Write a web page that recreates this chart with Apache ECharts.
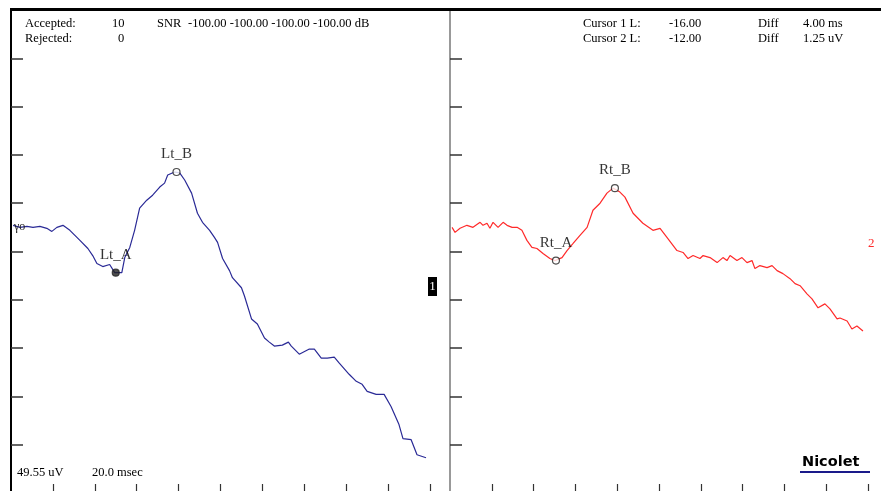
<!DOCTYPE html>
<html>
<head>
<meta charset="utf-8">
<script src="https://cdn.jsdelivr.net/npm/echarts@6/dist/echarts.min.js"></script>
<style>
  html, body { margin: 0; padding: 0; background: #fff; }
  #chart { width: 881px; height: 491px; }
</style>
</head>
<body>
<div id="chart"></div>
<script>
// Trace 1 (left, blue) : time in ms, amplitude in uV
const leftTime = [0.10, 0.43, 0.76, 1.05, 1.38, 1.71, 1.95, 2.19, 2.48, 2.81, 3.29, 3.67, 3.90, 4.10, 4.38, 4.71, 4.95, 5.29, 5.43, 5.67,
  5.90, 6.14, 6.48, 6.76, 7.10, 7.33, 7.48, 7.81, 8.05, 8.29, 8.62, 8.90, 9.14, 9.48, 9.71, 9.86, 10.10, 10.43, 10.57, 11.00,
  11.14, 11.48, 11.76, 12.10, 12.33, 12.57, 12.95, 13.24, 13.38, 13.76, 14.24, 14.48, 14.81, 15.10, 15.43, 15.67, 16.14, 16.48, 16.76, 17.00,
  17.43, 17.81, 18.14, 18.52, 18.71, 19.10, 19.38, 19.81];
const leftAmp = [2.71, 2.50, 2.60, 2.50, 2.60, 2.40, 2.08, 2.50, 2.71, 2.19, 1.15, 0.31, -0.42, -1.25, -1.56, -1.35, -2.19, -2.19, -0.63, 0.42,
  2.19, 4.48, 5.31, 5.83, 6.67, 7.08, 7.92, 8.23, 8.13, 7.40, 6.04, 3.96, 3.02, 2.19, 1.46, 0.94, -0.73, -1.98, -2.71, -3.75,
  -4.58, -6.98, -7.50, -8.96, -9.38, -9.79, -9.69, -9.38, -9.79, -10.63, -10.10, -10.10, -11.04, -11.04, -10.94, -11.56, -12.71, -13.44, -13.75, -14.48,
  -14.79, -14.79, -16.04, -17.92, -19.38, -19.48, -21.04, -21.35];

// Trace 2 (right, red)
const rightTime = [0.10, 0.24, 0.48, 0.81, 1.10, 1.44, 1.58, 1.77, 1.91, 2.06, 2.30, 2.54, 2.73, 2.97, 3.21, 3.44, 3.68, 3.92, 4.16, 4.45,
  4.78, 5.02, 5.36, 5.60, 5.89, 6.22, 6.56, 6.84, 7.18, 7.51, 7.80, 8.13, 8.37, 8.76, 9.23, 9.71, 10.05, 10.38, 10.86, 11.15,
  11.39, 11.63, 11.96, 12.11, 12.44, 12.78, 13.06, 13.25, 13.40, 13.73, 13.97, 14.21, 14.45, 14.59, 14.83, 15.17, 15.41, 15.65, 15.93, 16.27,
  16.51, 16.75, 17.08, 17.32, 17.61, 17.94, 18.18, 18.52, 18.66, 19.00, 19.23, 19.47, 19.76];
const rightAmp = [2.50, 1.98, 2.40, 2.71, 2.50, 3.02, 2.71, 2.92, 2.40, 3.02, 2.50, 3.02, 2.71, 2.50, 2.50, 2.19, 1.15, 0.42, 0.31, -0.21,
  -0.73, -0.94, -0.63, 0.10, 0.83, 1.67, 2.50, 4.27, 5.00, 6.04, 6.56, 6.15, 5.63, 3.96, 2.92, 2.19, 2.40, 1.46, 0.10, -0.10,
  -0.73, -0.42, -0.73, -0.42, -0.63, -1.15, -0.63, -0.94, -0.42, -0.94, -0.63, -1.15, -0.94, -1.77, -1.46, -1.67, -1.46, -1.98, -2.29, -2.81,
  -3.33, -3.54, -4.38, -4.90, -5.83, -5.42, -5.94, -6.98, -6.88, -7.19, -8.02, -7.71, -8.23];

// Peak marks
const leftPeakNames = ['Lt_A', 'Lt_B'];
const leftPeakTime = [5.00, 7.90];
const leftPeakAmp = [-2.19, 8.23];
const rightPeakNames = ['Rt_A', 'Rt_B'];
const rightPeakTime = [5.07, 7.89];
const rightPeakAmp = [-0.94, 6.56];

// Axis ticks
const timeTicks = [2, 4, 6, 8, 10, 12, 14, 16, 18, 20];
const ampTicks = [-20, -15, -10, -5, 0, 5, 10, 15, 20];

const zip = (a, b) => a.map((v, i) => [v, b[i]]);

const serif = '"Liberation Serif", "DejaVu Serif", serif';

function xAxisFor(gridIndex) {
    return {
        type: 'value', gridIndex: gridIndex, min: 0, max: 20, interval: 2,
        axisLine: { show: false, onZero: false },
        axisLabel: { show: false },
        splitLine: { show: false },
        axisTick: { show: true, inside: true, length: 9, customValues: timeTicks,
            lineStyle: { color: '#333', width: 1.2 } }
    };
}

function yAxisFor(gridIndex, lineColor, lineWidth) {
    return {
        type: 'value', gridIndex: gridIndex, min: -25, max: 25, interval: 5,
        axisLine: { show: true, onZero: false, lineStyle: { color: lineColor, width: lineWidth } },
        axisLabel: { show: false },
        splitLine: { show: false },
        axisTick: { show: true, inside: true, length: 12, customValues: ampTicks,
            lineStyle: { color: '#333', width: 1.5 } }
    };
}

function peakSeries(idx, names, times, amps, filledFirst) {
    return {
        type: 'scatter', xAxisIndex: idx, yAxisIndex: idx,
        symbol: 'circle', symbolSize: 7, z: 5,
        data: names.map((n, i) => ({
            name: n, value: [times[i], amps[i]],
            itemStyle: { color: (filledFirst && i === 0) ? '#222' : '#fff', borderColor: '#222', borderWidth: 1.2 }
        })),
        label: {
            show: true, position: 'top', distance: 6, formatter: '{b}',
            fontFamily: serif, fontSize: 15, color: '#000', textBorderWidth: 0
        }
    };
}

const chart = echarts.init(document.getElementById('chart'), null, { renderer: 'canvas' });

const txt = (x, y, text, extra) => ({
    type: 'text', x: x, y: y, z: 20,
    style: Object.assign({ text: text, fontFamily: serif, fontSize: 12.5, fill: '#000', textVerticalAlign: 'middle' }, extra || {})
});

const option = {
    animation: false,
    backgroundColor: '#fff',
    grid: [
        { left: 11, top: 10, width: 419, height: 483, outerBoundsMode: 'none' },
        { left: 450, top: 10, width: 418, height: 483, outerBoundsMode: 'none' }
    ],
    xAxis: [xAxisFor(0), xAxisFor(1)],
    yAxis: [yAxisFor(0, '#000', 2), yAxisFor(1, '#777', 1.5)],
    series: [
        {
            type: 'line', xAxisIndex: 0, yAxisIndex: 0, showSymbol: false,
            lineStyle: { color: '#2a2a96', width: 1.2 },
            data: zip(leftTime, leftAmp)
        },
        {
            type: 'line', xAxisIndex: 1, yAxisIndex: 1, showSymbol: false,
            lineStyle: { color: '#ff2a2a', width: 1.2 },
            data: zip(rightTime, rightAmp)
        },
        peakSeries(0, leftPeakNames, leftPeakTime, leftPeakAmp, true),
        peakSeries(1, rightPeakNames, rightPeakTime, rightPeakAmp, false)
    ],
    graphic: [
        // top border
        { type: 'line', z: 20, shape: { x1: 10, y1: 9.5, x2: 881, y2: 9.5 }, style: { stroke: '#000', lineWidth: 3 } },
        // header, left
        txt(25, 24, 'Accepted:'),
        txt(112, 24, '10'),
        txt(157, 24, 'SNR'),
        txt(188, 24, '-100.00 -100.00 -100.00 -100.00 dB'),
        txt(25, 39, 'Rejected:'),
        txt(118, 39, '0'),
        // header, right
        txt(583, 24, 'Cursor 1 L:'),
        txt(669, 24, '-16.00'),
        txt(758, 24, 'Diff'),
        txt(803, 24, '4.00 ms'),
        txt(583, 39, 'Cursor 2 L:'),
        txt(669, 39, '-12.00'),
        txt(758, 39, 'Diff'),
        txt(803, 39, '1.25 uV'),
        // bottom scale
        txt(17, 473, '49.55 uV'),
        txt(92, 473, '20.0 msec'),
        // cursor glyph at start of trace 1
        txt(14, 227, 'γo', { fontSize: 12, fill: '#222' }),
        // trace number tags
        { type: 'rect', z: 20, shape: { x: 428, y: 277, width: 9, height: 19 }, style: { fill: '#000' } },
        txt(432.5, 287, '1', { fill: '#fff', fontSize: 13, textAlign: 'center', z: 21 }),
        txt(868, 244, '2', { fill: '#ff2a2a', fontSize: 13 }),
        // logo
        txt(802, 462, 'Nicolet', { fontFamily: '"DejaVu Sans", sans-serif', fontWeight: 'bold', fontSize: 14.5, fill: '#000' }),
        { type: 'line', z: 20, shape: { x1: 800, y1: 472, x2: 870, y2: 472 }, style: { stroke: '#1a1a8a', lineWidth: 2 } }
    ]
};

chart.setOption(option);
window.addEventListener('resize', chart.resize);
</script>
</body>
</html>
